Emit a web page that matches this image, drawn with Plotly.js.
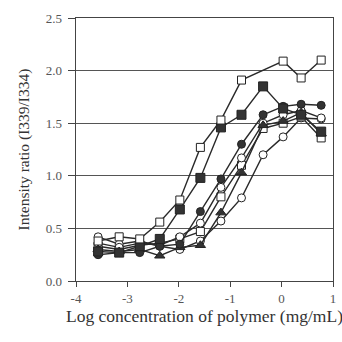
<!DOCTYPE html>
<html><head><meta charset="utf-8">
<script src="https://cdn.plot.ly/plotly-3.0.1.min.js"></script>
<style>html,body{margin:0;padding:0;background:#fff;}#chart{width:342px;height:342px;}</style>
</head><body><div id="chart"></div>
<script>
const logConc = [-3.57, -3.16, -2.76, -2.37, -1.98, -1.58, -1.18, -0.78, -0.36, 0.03, 0.38, 0.77];
const openSquareA = [0.38, 0.42, 0.40, 0.56, 0.77, 1.27, 1.53, 1.91, null, 2.09, 1.93, 2.10];
const filledSquare = [0.28, 0.27, 0.33, 0.40, 0.68, 0.98, 1.46, 1.58, 1.85, 1.64, 1.58, 1.42];
const filledCircle = [0.25, 0.27, 0.27, 0.33, 0.35, 0.66, 0.97, 1.30, 1.58, 1.66, 1.68, 1.67];
const openCircleB = [0.36, 0.32, 0.36, 0.34, 0.42, 0.55, 0.89, 1.17, 1.50, 1.58, 1.62, 1.55];
const filledTriangle = [0.30, 0.28, 0.30, 0.24, 0.32, 0.34, 0.65, 1.03, 1.48, 1.52, 1.60, 1.40];
const openCircleC = [0.42, 0.35, 0.38, 0.33, 0.30, 0.38, 0.57, 0.79, 1.20, 1.37, 1.55, 1.54];
const openSquareD = [0.33, 0.30, 0.34, 0.36, 0.40, 0.47, 0.80, 1.10, 1.45, 1.50, 1.56, 1.36];
const yTickVals = [0, 0.5, 1.0, 1.5, 2.0, 2.5];
const xTickVals = [-4, -3, -2, -1, 0, 1];

const lineCol = '#2a2a2a';
function mk(y, symbol, fill, size) {
  return {
    x: logConc, y: y, type: 'scatter', mode: 'lines+markers', connectgaps: true,
    line: {color: lineCol, width: 1.4},
    marker: {symbol: symbol, size: size || 8, color: fill, line: {color: '#222', width: 1}},
    hoverinfo: 'skip'
  };
}
const data = [
  mk(openCircleC, 'circle', '#fff'),
  mk(openSquareD, 'square', '#fff'),
  mk(openCircleB, 'circle', '#fff'),
  mk(filledTriangle, 'triangle-up', '#333', 9),
  mk(filledCircle, 'circle', '#333'),
  mk(filledSquare, 'square', '#333', 9),
  mk(openSquareA, 'square', '#fff')
];
const tickFont = {family: 'Liberation Serif', size: 13, color: '#555'};
const layout = {
  width: 342, height: 342,
  margin: {l: 76, r: 9, t: 18, b: 61},
  paper_bgcolor: '#fff', plot_bgcolor: '#fff',
  showlegend: false,
  xaxis: {
    range: [-4, 1], tickvals: xTickVals, ticktext: xTickVals.map(String),
    showgrid: false, zeroline: false, showline: true, mirror: true,
    linecolor: '#444', linewidth: 1.3, ticks: 'outside', ticklen: 5, tickcolor: '#444',
    tickfont: tickFont,
    title: {text: 'Log concentration of polymer (mg/mL)', font: {family: 'Liberation Serif', size: 17.5, color: '#333'}, standoff: 4}
  },
  yaxis: {
    range: [0, 2.5], tickvals: yTickVals, tickformat: '.1f',
    showgrid: true, gridcolor: '#555', gridwidth: 1.2, zeroline: false,
    showline: true, mirror: true, linecolor: '#444', linewidth: 1.3,
    ticks: 'outside', ticklen: 7, tickcolor: '#444', ticklabelstandoff: 3,
    tickfont: tickFont,
    title: {text: 'Intensity ratio (I339/I334)', font: {family: 'Liberation Serif', size: 15.5, color: '#333'}, standoff: 12}
  }
};
Plotly.newPlot('chart', data, layout, {staticPlot: true, displayModeBar: false});
</script>
</body></html>
